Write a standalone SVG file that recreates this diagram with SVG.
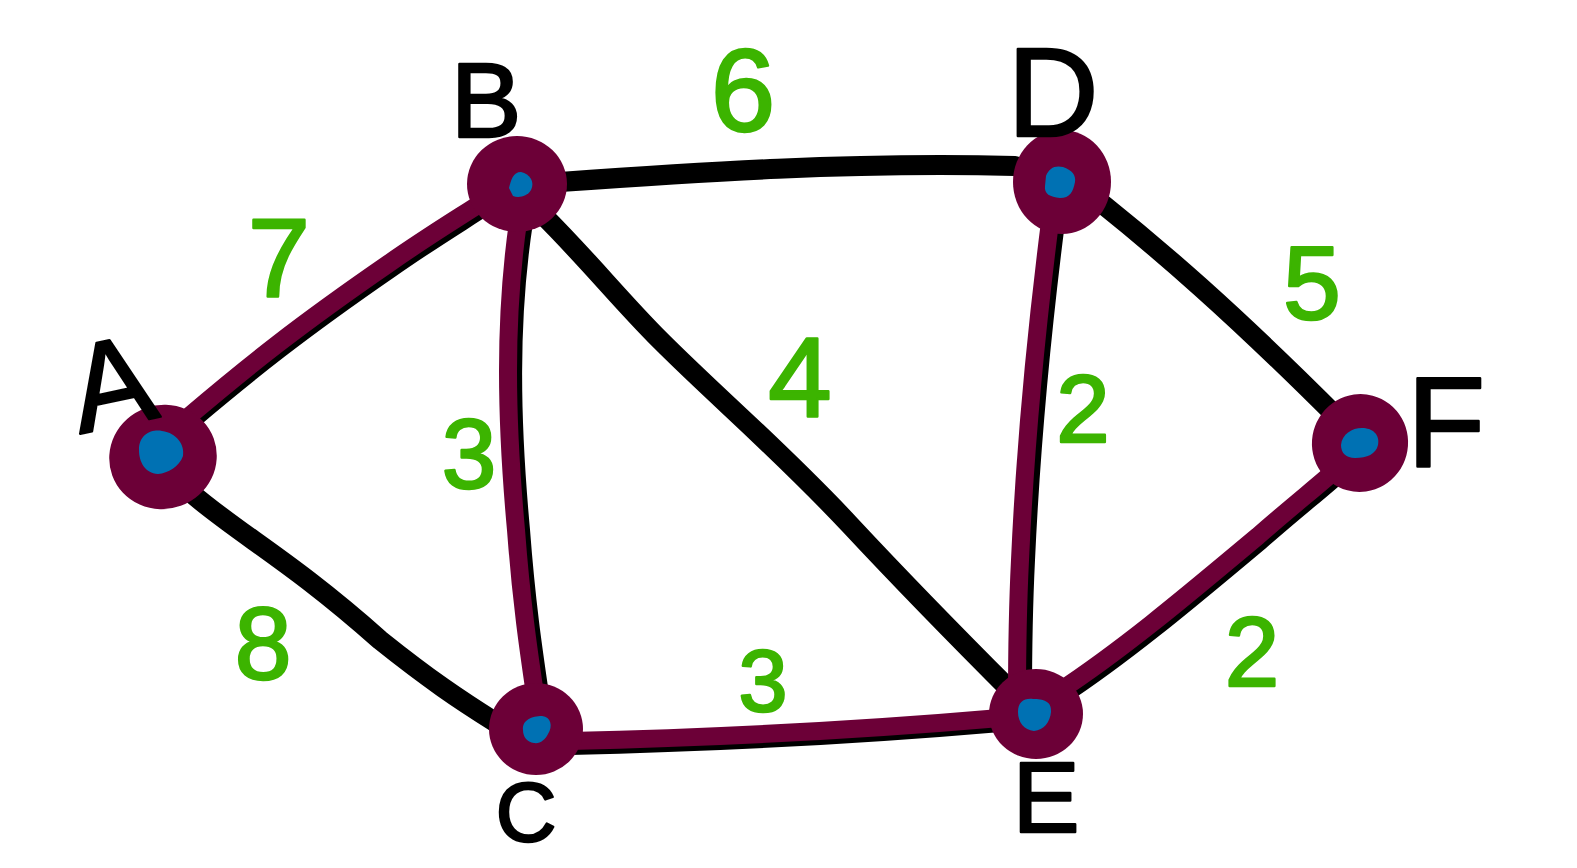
<svg xmlns="http://www.w3.org/2000/svg" width="1577" height="868" viewBox="0 0 1577 868">
<style>
.blk{fill:none;stroke:#000;stroke-width:20;stroke-linecap:round;stroke-linejoin:round}
.und{fill:none;stroke:#000;stroke-width:20;stroke-linecap:round;stroke-linejoin:round}
.pur{fill:none;stroke:#6c0037;stroke-width:18;stroke-linecap:round;stroke-linejoin:round}
.node{fill:#6c0037}
.dot{fill:#0071b3}
.lbl{font-family:"Liberation Sans",Arial,sans-serif;fill:#000;stroke:#000;stroke-width:2.5;stroke-linejoin:round;text-anchor:middle}
.w{font-family:"Liberation Sans",Arial,sans-serif;fill:#3cb400;stroke:#3cb400;stroke-width:2.5;stroke-linejoin:round;text-anchor:middle}
</style>
<rect width="1577" height="868" fill="#fff"/>
<g id="connectors">
<path class="blk" d="M190,492 C240,535 290,560 380,640 C430,680 460,700 495,722"/>
<path class="blk" d="M560,182 C700,172 850,162 1015,166"/>
<path class="blk" d="M543,215 C590,262 620,300 660,340 C720,400 780,450 850,525 C920,600 970,650 1015,695"/>
<path class="blk" d="M1100,202 C1160,250 1230,310 1338,418"/>
<path class="und" d="M192,419 C250,370 300,330 390,268 C430,240 460,222 486,205"/>
<path class="und" d="M523,222 C508,320 510,420 520,530 C526,610 534,660 541,708"/>
<path class="und" d="M1055,222 C1040,340 1030,450 1025,560 C1022,620 1022,660 1022,700"/>
<path class="und" d="M1060,696 C1130,650 1200,590 1260,540 C1300,505 1320,490 1342,470"/>
<path class="und" d="M570,745 C700,742 850,735 1000,722"/>
<path class="pur" d="M188,417 C248,366 298,326 388,264 C428,236 458,218 484,201"/>
<path class="pur" d="M518,222 C504,320 506,420 516,530 C522,610 530,660 537,708"/>
<path class="pur" d="M1050,222 C1035,340 1025,450 1020,560 C1017,620 1017,660 1017,700"/>
<path class="pur" d="M1058,692 C1128,646 1198,586 1258,536 C1298,501 1318,486 1340,466"/>
<path class="pur" d="M570,741 C700,738 850,731 1000,718"/>
</g>
<g id="node-A">
<ellipse class="node" cx="163" cy="457" rx="54" ry="52" transform="rotate(-20 163 457)"/>
<path class="dot" d="M139,450 C139,434 152,429 162,431 C177,433 185,445 183,456 C179,467 168,473 158,474 C145,473 139,462 139,450 Z"/>
<text class="lbl" x="113" y="426" font-size="124" transform="rotate(-12 113 390)">A</text>
</g>
<g id="node-B">
<ellipse class="node" cx="517" cy="184" rx="50" ry="48"/>
<path class="dot" d="M509,188 C511,180 513,172 521,172 C530,174 535,182 531,190 C527,197 518,198 513,196 Z"/>
<text class="lbl" x="486" y="137" font-size="106">B</text>
</g>
<g id="node-C">
<ellipse class="node" cx="536" cy="729" rx="47" ry="46"/>
<path class="dot" d="M523,730 C522,720 532,716 542,716 C551,717 553,726 548,734 C545,740 540,744 534,743 C527,742 523,737 523,730 Z"/>
<text class="lbl" x="526" y="841" font-size="84">C</text>
</g>
<g id="node-D">
<ellipse class="node" cx="1062" cy="182" rx="49" ry="52"/>
<path class="dot" d="M1046,176 C1049,168 1055,165 1063,167 C1072,170 1076,175 1075,182 C1073,192 1070,198 1060,198 C1050,197 1044,194 1045,186 Z"/>
<text class="lbl" x="1053" y="136" font-size="126">D</text>
</g>
<g id="node-E">
<ellipse class="node" cx="1036" cy="714" rx="47" ry="45"/>
<path class="dot" d="M1018,712 C1018,702 1024,698 1033,699 C1043,699 1052,701 1051,712 C1050,722 1044,730 1034,731 C1024,730 1018,722 1018,712 Z"/>
<text class="lbl" x="1046" y="832" font-size="100">E</text>
</g>
<g id="node-F">
<ellipse class="node" cx="1360" cy="443" rx="48" ry="49" transform="rotate(15 1360 443)"/>
<path class="dot" d="M1341,445 C1342,434 1352,428 1362,428 C1372,428 1380,434 1378,445 C1376,454 1367,458 1355,458 C1346,458 1341,453 1341,445 Z"/>
<text class="lbl" x="1446" y="467" font-size="128">F</text>
</g>
<g id="weights">
<text class="w" x="279" y="296" font-size="112">7</text>
<text class="w" x="743" y="131" font-size="116">6</text>
<text class="w" x="469" y="488" font-size="98">3</text>
<text class="w" x="800" y="417" font-size="114">4</text>
<text class="w" x="1083" y="442" font-size="96">2</text>
<text class="w" x="1312" y="319" font-size="104">5</text>
<text class="w" x="263" y="679" font-size="102">8</text>
<text class="w" x="763" y="711" font-size="88">3</text>
<text class="w" x="1252" y="686" font-size="98">2</text>
</g>
</svg>
